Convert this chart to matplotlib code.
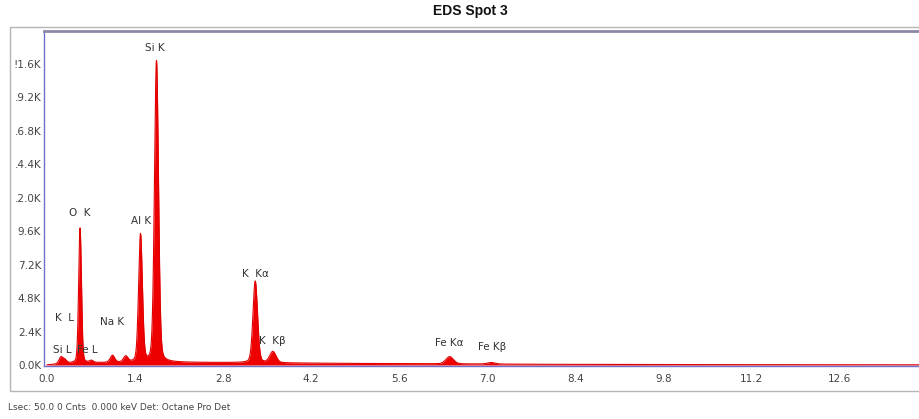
import numpy as np
import matplotlib
matplotlib.use("Agg")
import matplotlib.pyplot as plt
from matplotlib.patches import Rectangle

# peaks: energy (keV), height (counts), width (keV)
peak_energy = [0.22, 0.28, 0.525, 0.705, 1.04, 1.25, 1.486, 1.74, 3.31, 3.59, 6.40, 7.06]
peak_counts = [450, 250, 9700, 150, 500, 420, 9150, 21600, 5850, 800, 520, 110]
peak_width = [0.03, 0.03, 0.022, 0.03, 0.035, 0.035, 0.03, 0.032, 0.036, 0.05, 0.06, 0.06]

# continuum under the peaks
bg_energy = [0.0, 0.3, 1.0, 2.0, 3.0, 4.0, 5.0, 6.0, 7.0, 8.0, 10.0, 14.0]
bg_counts = [0, 120, 170, 190, 170, 140, 110, 90, 70, 50, 30, 15]

# peak labels
label_text = ["Si K", "O  K", "Al K", "K  K\u03b1", "K  K\u03b2", "Na K", "K  L",
              "Si L", "Fe L", "Fe K\u03b1", "Fe K\u03b2"]
label_x = [1.72, 0.52, 1.49, 3.32, 3.58, 1.03, 0.27, 0.24, 0.64, 6.39, 7.07]
label_y = [22700, 10900, 10350, 6500, 1750, 3100, 3350, 1050, 1050, 1550, 1280]

ytick_vals = [0, 2400, 4800, 7200, 9600, 12000, 14400, 16800, 19200, 21600]
ytick_text = ["0.0K", "2.4K", "4.8K", "7.2K", "9.6K", ".2.0K", ".4.4K", ".6.8K", ".9.2K", "!1.6K"]
xtick_vals = [0.0, 1.4, 2.8, 4.2, 5.6, 7.0, 8.4, 9.8, 11.2, 12.6]

energy = np.linspace(0, 14, 4201)
counts = np.interp(energy, bg_energy, bg_counts)
for e0, h, w in zip(peak_energy, peak_counts, peak_width):
    # pseudo-Voigt: sharp top, broad foot
    gauss = np.exp(-0.5 * ((energy - e0) / w) ** 2)
    lor = 1.0 / (1.0 + ((energy - e0) / (1.2 * w)) ** 2)
    counts = counts + h * (0.8 * gauss + 0.2 * lor)

fig = plt.figure(figsize=(9.19, 4.19), dpi=100)
fig.patch.set_facecolor("white")

# outer gray panel frame
fig.patches.append(Rectangle((10 / 919, (419 - 391) / 419), 1.0, (391 - 27) / 419,
                             transform=fig.transFigure, fill=False,
                             edgecolor="#b4b4b4", linewidth=1.0))

ax = fig.add_axes([44 / 919, 53 / 419, 885 / 919, 335 / 419])
ax.fill_between(energy, 0, counts, color="#ee0000", linewidth=0)
ax.plot(energy, counts, color="#e00000", linewidth=0.8)

ax.set_xlim(-0.048, 14.02)
ax.set_ylim(-70, 23930)

ax.set_xticks(xtick_vals)
ax.set_xticklabels(["%.1f" % v for v in xtick_vals])
ax.set_yticks(ytick_vals)
ax.set_yticklabels(ytick_text)
ax.tick_params(length=0, labelsize=7.5, labelcolor="#444444", pad=2)
ax.tick_params(axis="x", pad=6)

for side in ["left", "bottom"]:
    ax.spines[side].set_color("#7070c8")
    ax.spines[side].set_linewidth(1.0)
ax.spines["top"].set_color("#8a8aa8")
ax.spines["top"].set_linewidth(2.0)
ax.spines["right"].set_visible(False)

for t, x, y in zip(label_text, label_x, label_y):
    ax.text(x, y, t, ha="center", va="center", fontsize=7.5, color="#333333")

fig.text(470 / 919, 1 - 11 / 419, "EDS Spot 3", ha="center", va="center",
         fontsize=10, fontweight="bold", family="Liberation Sans", color="#111111")
fig.text(8 / 919, 1 - 407 / 419, "Lsec: 50.0 0 Cnts  0.000 keV Det: Octane Pro Det",
         ha="left", va="center", fontsize=6.5, color="#444444")

fig.savefig("out.png", dpi=100)
